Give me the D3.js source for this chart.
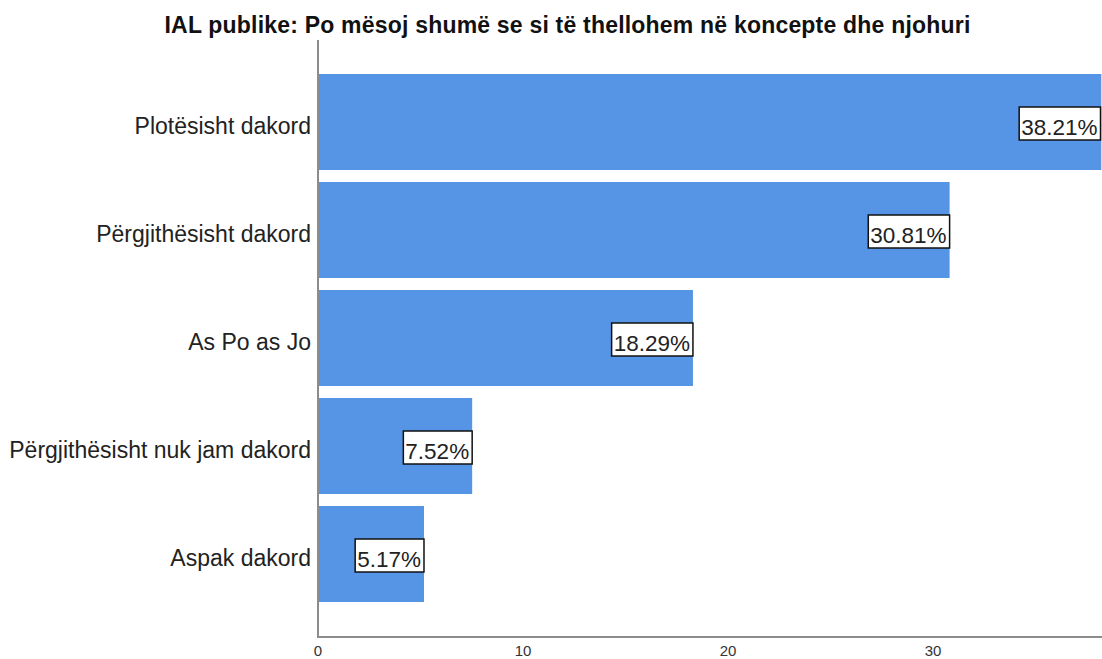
<!DOCTYPE html>
<html><head><meta charset="utf-8">
<script src="https://cdn.jsdelivr.net/npm/d3@7"></script>
<style>body{margin:0;background:#fff;}svg{display:block;font-family:"Liberation Sans",Arial,sans-serif;}</style>
</head><body>
<svg id="c" width="1102" height="659"></svg>
<script>
const title = "IAL publike: Po mësoj shumë se si të thellohem në koncepte dhe njohuri";
const categories = ["Plotësisht dakord","Përgjithësisht dakord","As Po as Jo","Përgjithësisht nuk jam dakord","Aspak dakord"];
const values = [38.21,30.81,18.29,7.52,5.17];
const ticks = [0,10,20,30];

const svg = d3.select("#c");
const x = d3.scaleLinear().domain([0,30]).range([318,933]);
const y = d3.scaleBand().domain(categories).range([68,608]).paddingInner(0.111).paddingOuter(0.0555);

svg.append("text").attr("x",567.5).attr("y",33).attr("text-anchor","middle")
  .attr("font-size",23).attr("font-weight","bold").attr("letter-spacing",0.2).attr("fill","#111").text(title);

svg.selectAll("rect.bar").data(values).join("rect").attr("class","bar")
  .attr("x",x(0)).attr("y",(d,i)=>y(categories[i])).attr("height",y.bandwidth())
  .attr("width",d=>x(d)-x(0)).attr("fill","#5694e5");

// axes lines
svg.append("line").attr("x1",318).attr("x2",318).attr("y1",40).attr("y2",637).attr("stroke","#8c8c8c").attr("stroke-width",2);
svg.append("line").attr("x1",317).attr("x2",1102).attr("y1",637).attr("y2",637).attr("stroke","#8c8c8c").attr("stroke-width",2);

// category labels
svg.selectAll("text.cat").data(categories).join("text").attr("class","cat")
  .attr("x",311).attr("y",d=>y(d)+y.bandwidth()/2+4).attr("dy","0.35em")
  .attr("text-anchor","end").attr("font-size",23).attr("fill","#222").text(d=>d);

// tick labels
svg.selectAll("text.tick").data(ticks).join("text").attr("class","tick")
  .attr("x",d=>x(d)).attr("y",656).attr("text-anchor","middle")
  .attr("font-size",15).attr("fill","#333").text(d=>d);

// value labels
const g = svg.selectAll("g.val").data(values).join("g").attr("class","val");
g.each(function(d,i){
  const gg = d3.select(this);
  const cy = y(categories[i])+y.bandwidth()/2;
  const right = Math.min(x(d),1100.5);
  const t = gg.append("text").attr("font-size",22.5).attr("fill","#222")
    .attr("text-anchor","end").attr("x",right-3).attr("y",cy+12.5).text(d.toFixed(2)+"%");
  const bb = t.node().getBBox();
  gg.insert("rect","text").attr("x",bb.x-2).attr("y",cy-15).attr("width",right-(bb.x-2)).attr("height",33)
    .attr("fill","#fff").attr("stroke","#111").attr("stroke-width",1.5);
});
</script>
</body></html>
